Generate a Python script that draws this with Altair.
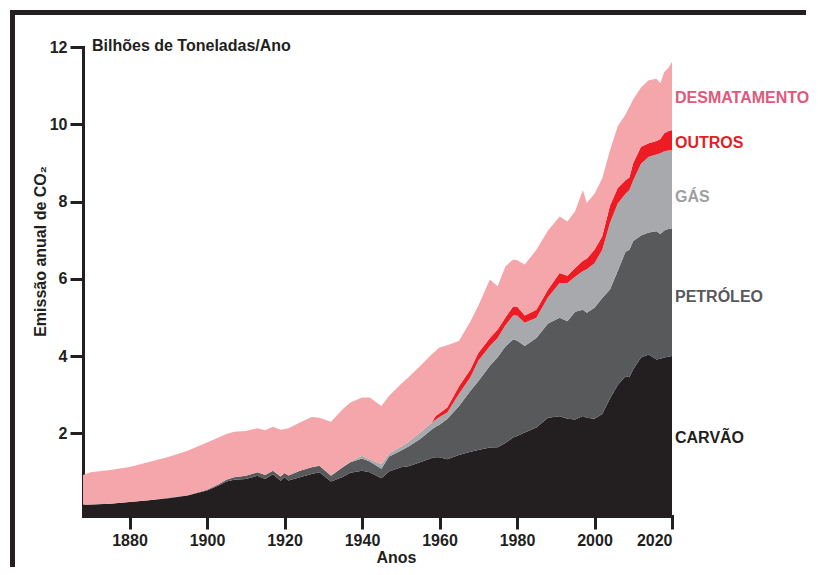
import altair as alt
import pandas as pd

# ---- data, billions of tonnes / year ----
anos = [1868, 1870, 1875, 1880, 1885, 1890, 1895,
        1900, 1903, 1905, 1907, 1910, 1913, 1915, 1917, 1919,
        1920, 1921, 1924, 1927, 1929,
        1932, 1935, 1937,
        1940, 1942, 1945, 1947,
        1950, 1952, 1955, 1958, 1959,
        1960, 1962, 1965, 1968,
        1970, 1973, 1975, 1977, 1979,
        1980, 1982, 1985, 1988,
        1991, 1993, 1995, 1997, 1998,
        2000, 2002, 2004, 2006, 2008, 2009,
        2010, 2012, 2014, 2016, 2017, 2018, 2019, 2020]

carvao = [0.15, 0.16, 0.18, 0.22, 0.27, 0.32, 0.39,
          0.52, 0.65, 0.75, 0.80, 0.82, 0.90, 0.82, 0.94, 0.77,
          0.86, 0.78, 0.86, 0.95, 0.99,
          0.75, 0.87, 0.98,
          1.03, 0.99, 0.84, 1.01,
          1.12, 1.15, 1.25, 1.36, 1.38,
          1.38, 1.33, 1.44, 1.52,
          1.57, 1.63, 1.64, 1.75, 1.89,
          1.93, 2.02, 2.15, 2.40,
          2.44, 2.38, 2.36, 2.45, 2.40,
          2.38, 2.50, 2.90, 3.25, 3.48, 3.45,
          3.66, 3.96, 4.04, 3.91, 3.93, 3.96, 3.98, 4.00]

petroleo = [0, 0, 0, 0, 0, 0.01, 0.01,
            0.02, 0.03, 0.05, 0.06, 0.08, 0.09, 0.10, 0.09, 0.11,
            0.11, 0.13, 0.17, 0.17, 0.17,
            0.15, 0.25, 0.27,
            0.32, 0.28, 0.24, 0.39,
            0.43, 0.51, 0.60, 0.74, 0.79,
            0.84, 1.04, 1.26, 1.58,
            1.78, 2.12, 2.33, 2.50, 2.54,
            2.47, 2.24, 2.32, 2.44,
            2.55, 2.52, 2.79, 2.75, 2.72,
            2.87, 3.00, 2.82, 2.95, 3.22, 3.30,
            3.32, 3.16, 3.16, 3.32, 3.23, 3.29, 3.31, 3.31]

gas = [0, 0, 0, 0, 0, 0, 0,
       0, 0, 0, 0, 0, 0, 0, 0, 0,
       0, 0, 0, 0, 0.01,
       0.01, 0.01, 0.02,
       0.07, 0.06, 0.12, 0.08,
       0.10, 0.12, 0.17, 0.18, 0.18,
       0.20, 0.17, 0.32, 0.36,
       0.53, 0.51, 0.50, 0.55, 0.62,
       0.65, 0.60, 0.52, 0.68,
       0.90, 0.99, 0.90, 1.00, 1.13,
       1.15, 1.25, 1.73, 1.75, 1.50, 1.55,
       1.57, 1.86, 1.96, 1.99, 2.09, 2.05, 2.03, 2.02]

outros = [0] * 32 + [
    0.10,
    0.10, 0.13, 0.19, 0.20,
    0.20, 0.21, 0.22, 0.20, 0.23,
    0.23, 0.19, 0.21, 0.20,
    0.26, 0.19, 0.23, 0.27, 0.27,
    0.35, 0.35, 0.45, 0.40, 0.35, 0.32,
    0.45, 0.44, 0.35, 0.35, 0.37, 0.47, 0.50, 0.52]

desmatamento = [0.77, 0.83, 0.87, 0.91, 0.99, 1.06, 1.15,
                1.22, 1.21, 1.18, 1.18, 1.16, 1.14, 1.16, 1.14, 1.21,
                1.14, 1.22, 1.25, 1.30, 1.23,
                1.39, 1.49, 1.53,
                1.51, 1.60, 1.51, 1.49,
                1.62, 1.67, 1.72, 1.77, 1.68,
                1.70, 1.61, 1.18, 1.24,
                1.22, 1.51, 1.12, 1.32, 1.22,
                1.20, 1.32, 1.55, 1.53,
                1.46, 1.40, 1.47, 1.83, 1.44,
                1.45, 1.50, 1.43, 1.60, 1.70, 1.83,
                1.65, 1.53, 1.63, 1.61, 1.44, 1.58, 1.63, 1.77]

fontes = ["Carvão", "Petróleo", "Gás", "Outros", "Desmatamento"]
cores = ["#231f20", "#58595b", "#a7a9ac", "#ed1c24", "#f4a6ab"]

rotulos = ["DESMATAMENTO", "OUTROS", "GÁS", "PETRÓLEO", "CARVÃO"]
rotulos_y = [10.68, 9.51, 8.12, 5.53, 1.88]
rotulos_cor = ["#e0597a", "#e31e25", "#9d9fa2", "#58595b", "#231f20"]

anos_ticks = [1880, 1900, 1920, 1940, 1960, 1980, 2000, 2020]
valores_ticks = [2, 4, 6, 8, 10, 12]

# ---- tables ----
series = [carvao, petroleo, gas, outros, desmatamento]
rows = []
for i, ano in enumerate(anos):
    for k, (nome, serie) in enumerate(zip(fontes, series)):
        rows.append({"ano": ano, "fonte": nome, "ordem": k, "valor": serie[i]})
df = pd.DataFrame(rows)

df_rot = pd.DataFrame({"rotulo": rotulos, "y": rotulos_y, "cor": rotulos_cor})

FONT = "Liberation Sans"
INK = "#231f20"
Y_MIN = -0.14

x_scale = alt.Scale(domain=[1868, 2020], nice=False, zero=False)
y_scale = alt.Scale(domain=[Y_MIN, 12], nice=False, zero=False)

axis_common = dict(
    domainColor=INK, domainWidth=3, domainCap="square",
    tickColor=INK, tickWidth=3, tickSize=13,
    labelFont=FONT, labelFontSize=16, labelFontWeight="bold", labelColor=INK,
    titleFont=FONT, titleFontSize=16, titleFontWeight="bold", titleColor=INK,
    grid=False,
)

areas = alt.Chart(df).transform_stack(
    stack="valor", groupby=["ano"], as_=["v0", "v1"],
    sort=[alt.SortField(field="ordem", order="ascending")],
).transform_calculate(
    base=f"datum.ordem == 0 ? {Y_MIN} : datum.v0"
).mark_area(interpolate="linear").encode(
    x=alt.X("ano:Q", scale=x_scale,
            axis=alt.Axis(values=anos_ticks, format="d", title="Anos",
                          labelPadding=3, titleX=313, titleY=41,
                          titleAlign="center", titleBaseline="middle",
                          **axis_common)),
    y=alt.Y("base:Q", scale=y_scale,
            axis=alt.Axis(values=valores_ticks, format="d",
                          title="Emissão anual de CO₂", labelPadding=3,
                          titleX=-43, titleY=204, titleAngle=270,
                          titleAlign="center", titleBaseline="middle",
                          **axis_common)),
    y2="v1:Q",
    color=alt.Color("fonte:N", scale=alt.Scale(domain=fontes, range=cores), legend=None),
    order=alt.Order("ordem:Q"),
)

labels = alt.Chart(df_rot).mark_text(
    align="left", baseline="middle", dx=3, font=FONT, fontSize=16, fontWeight="bold"
).encode(
    x=alt.datum(2020),
    y=alt.Y("y:Q", scale=y_scale),
    text="rotulo:N",
    color=alt.Color("cor:N", scale=None),
)

one = pd.DataFrame({"k": [0]})
header = alt.Chart(one).mark_text(
    align="left", baseline="middle", font=FONT, fontSize=16, fontWeight="bold", color=INK
).encode(x=alt.value(9), y=alt.value(-1), text=alt.value("Bilhões de Toneladas/Ano"))

# decorative frame (top and left edges of the picture)
frame_top = alt.Chart(one).mark_rect(color=INK).encode(
    x=alt.value(-73), x2=alt.value(723), y=alt.value(-37), y2=alt.value(-32))
frame_left = alt.Chart(one).mark_rect(color=INK).encode(
    x=alt.value(-73), x2=alt.value(-68), y=alt.value(-37), y2=alt.value(520))

chart = alt.layer(areas, labels, header, frame_top, frame_left).properties(
    width=589, height=469,
    autosize=alt.AutoSizeParams(type="none"),
    padding={"left": 75, "top": 39, "right": 138, "bottom": 51},
    background="white",
).configure_view(stroke="transparent")

chart.save("out.html", embed_options={"renderer": "svg", "actions": False})
